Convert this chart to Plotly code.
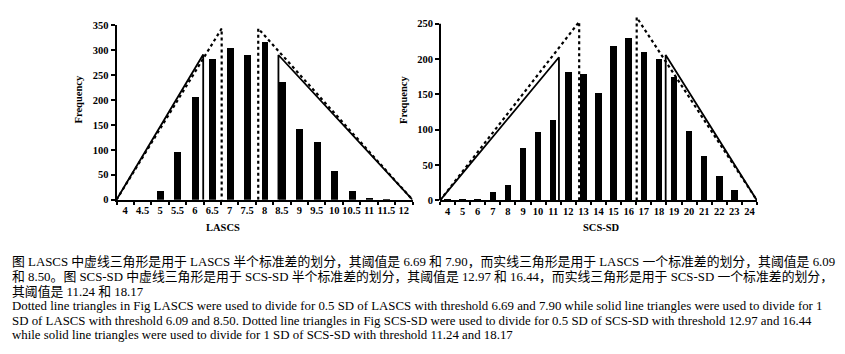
import plotly.graph_objects as go

W, H = 845, 354

# ---- data ----
lascs_cats = [4, 4.5, 5, 5.5, 6, 6.5, 7, 7.5, 8, 8.5, 9, 9.5, 10, 10.5, 11, 11.5, 12]
lascs_labels = ["4", "4.5", "5", "5.5", "6", "6.5", "7", "7.5", "8", "8.5", "9", "9.5", "10", "10.5", "11", "11.5", "12"]
lascs_freq = [0, 0, 18, 96, 205, 281, 304, 290, 315, 236, 141, 116, 58, 17, 3, 1, 0]

scs_cats = list(range(4, 25))
scs_labels = [str(v) for v in scs_cats]
scs_freq = [1, 2, 2, 12, 22, 74, 96, 114, 182, 179, 151, 218, 229, 210, 200, 174, 98, 63, 34, 14, 0]

# triangle outlines (x, y)
lascs_solid_left_x = [3.75, 6.24, 6.24]
lascs_solid_left_y = [0, 291, 0]
lascs_dot_left_x = [3.75, 6.77, 6.77]
lascs_dot_left_y = [0, 343, 0]
lascs_dot_right_x = [7.82, 7.82, 12.25]
lascs_dot_right_y = [0, 343, 0]
lascs_solid_right_x = [8.40, 8.40, 12.25]
lascs_solid_right_y = [0, 290, 0]

scs_solid_left_x = [3.5, 11.38, 11.38]
scs_solid_left_y = [0, 202.5, 0]
scs_dot_left_x = [3.5, 12.72, 12.72]
scs_dot_left_y = [0, 252.7, 0]
scs_dot_right_x = [16.53, 16.53, 24.5]
scs_dot_right_y = [0, 259, 0]
scs_solid_right_x = [18.45, 18.45, 24.5]
scs_solid_right_y = [0, 205.7, 0]

caption_lines = [
    "图 LASCS 中虚线三角形是用于 LASCS 半个标准差的划分，其阈值是 6.69 和 7.90，而实线三角形是用于 LASCS 一个标准差的划分，其阈值是 6.09",
    "和 8.50。图 SCS-SD 中虚线三角形是用于 SCS-SD 半个标准差的划分，其阈值是 12.97 和 16.44，而实线三角形是用于 SCS-SD 一个标准差的划分，",
    "其阈值是 11.24 和 18.17",
    "Dotted line triangles in Fig LASCS were used to divide for 0.5 SD of LASCS with threshold 6.69 and 7.90 while solid line triangles were used to divide for 1",
    "SD of LASCS with threshold 6.09 and 8.50. Dotted line triangles in Fig SCS-SD were used to divide for 0.5 SD of SCS-SD with threshold 12.97 and 16.44",
    "while solid line triangles were used to divide for 1 SD of SCS-SD with threshold 11.24 and 18.17",
]
caption_y = [265, 280.5, 295.5, 311, 326, 341]

SERIF = "Liberation Serif, Times New Roman, serif"
CAP_FONT = "Liberation Serif, Noto Sans CJK SC, serif"

def px_x(p):
    return p / W

def px_y(p):
    return 1 - p / H

fig = go.Figure()

# bars
fig.add_trace(go.Bar(x=lascs_cats, y=lascs_freq, width=0.2, marker_color="black",
                     marker_line_width=0, xaxis="x", yaxis="y"))
fig.add_trace(go.Bar(x=scs_cats, y=scs_freq, width=0.43, marker_color="black",
                     marker_line_width=0, xaxis="x2", yaxis="y2"))

def tri(x, y, dash, ax, ay, w):
    fig.add_trace(go.Scatter(x=x, y=y, mode="lines", xaxis=ax, yaxis=ay,
                             line=dict(color="black", width=w, dash=dash)))

tri(lascs_solid_left_x, lascs_solid_left_y, "solid", "x", "y", 1.8)
tri(lascs_dot_left_x, lascs_dot_left_y, "dot", "x", "y", 2.2)
tri(lascs_dot_right_x, lascs_dot_right_y, "dot", "x", "y", 2.2)
tri(lascs_solid_right_x, lascs_solid_right_y, "solid", "x", "y", 1.8)
tri(scs_solid_left_x, scs_solid_left_y, "solid", "x2", "y2", 1.8)
tri(scs_dot_left_x, scs_dot_left_y, "dot", "x2", "y2", 2.2)
tri(scs_dot_right_x, scs_dot_right_y, "dot", "x2", "y2", 2.2)
tri(scs_solid_right_x, scs_solid_right_y, "solid", "x2", "y2", 1.8)

tickfont = dict(family=SERIF, size=10.5, color="black", weight="bold")

lascs_bounds = [c - 0.25 for c in lascs_cats] + [lascs_cats[-1] + 0.25]
scs_bounds = [c - 0.5 for c in scs_cats] + [scs_cats[-1] + 0.5]

fig.update_layout(
    width=W, height=H, autosize=False,
    margin=dict(l=0, r=0, t=0, b=0),
    paper_bgcolor="white", plot_bgcolor="white",
    showlegend=False, bargap=0,
    xaxis=dict(domain=[px_x(116.5), px_x(412.5)], range=[3.75, 12.25],
               tickmode="array", tickvals=lascs_cats, ticktext=lascs_labels,
               ticks="", tickfont=tickfont, showgrid=False, zeroline=False,
               showline=True, linecolor="black", linewidth=2,
               minor=dict(tickmode="array", tickvals=lascs_bounds, ticks="outside",
                          ticklen=3, tickwidth=1.5, tickcolor="black", showgrid=False),
               anchor="y", fixedrange=True),
    yaxis=dict(domain=[px_y(201), px_y(20.7)], range=[0, 350], dtick=50,
               ticks="outside", ticklen=4, tickwidth=1.5, tickcolor="black",
               tickfont=tickfont, showgrid=False, zeroline=False,
               showline=True, linecolor="black", linewidth=2, anchor="x"),
    xaxis2=dict(domain=[px_x(440), px_x(757)], range=[3.5, 24.5],
                tickmode="array", tickvals=scs_cats, ticktext=scs_labels,
                ticks="", tickfont=tickfont, showgrid=False, zeroline=False,
                showline=True, linecolor="black", linewidth=2,
                minor=dict(tickmode="array", tickvals=scs_bounds, ticks="outside",
                           ticklen=3, tickwidth=1.5, tickcolor="black", showgrid=False),
                anchor="y2"),
    yaxis2=dict(domain=[px_y(201.7), px_y(201.7 - 262 * 182.4 / 250)], range=[0, 262],
                tickmode="array", tickvals=[0, 50, 100, 150, 200, 250],
                ticks="outside", ticklen=4, tickwidth=1.5, tickcolor="black",
                tickfont=tickfont, showgrid=False, zeroline=False,
                showline=False, anchor="x2"),
)

# y axis line of right chart (up to 250 only)
fig.add_shape(type="line", xref="x2 domain", yref="y2", x0=0, x1=0, y0=0, y1=250,
              line=dict(color="black", width=2))

titlefont = dict(family=SERIF, size=10.5, color="black", weight="bold")
fig.add_annotation(text="Frequency", x=px_x(78.5), y=px_y(98), xref="paper", yref="paper",
                   textangle=-90, showarrow=False, font=titlefont, xanchor="center", yanchor="middle")
fig.add_annotation(text="Frequency", x=px_x(404), y=px_y(98), xref="paper", yref="paper",
                   textangle=-90, showarrow=False, font=titlefont, xanchor="center", yanchor="middle")
fig.add_annotation(text="LASCS", x=px_x(223), y=px_y(230), xref="paper", yref="paper",
                   showarrow=False, font=titlefont, xanchor="center", yanchor="middle")
fig.add_annotation(text="SCS-SD", x=px_x(601.5), y=px_y(230), xref="paper", yref="paper",
                   showarrow=False, font=titlefont, xanchor="center", yanchor="middle")

for line, yy in zip(caption_lines, caption_y):
    fig.add_annotation(text=line, x=px_x(10), y=px_y(yy), xref="paper", yref="paper",
                       showarrow=False, xanchor="left", yanchor="middle",
                       font=dict(family=CAP_FONT, size=12.85, color="black"))

fig.write_html("out.html")
